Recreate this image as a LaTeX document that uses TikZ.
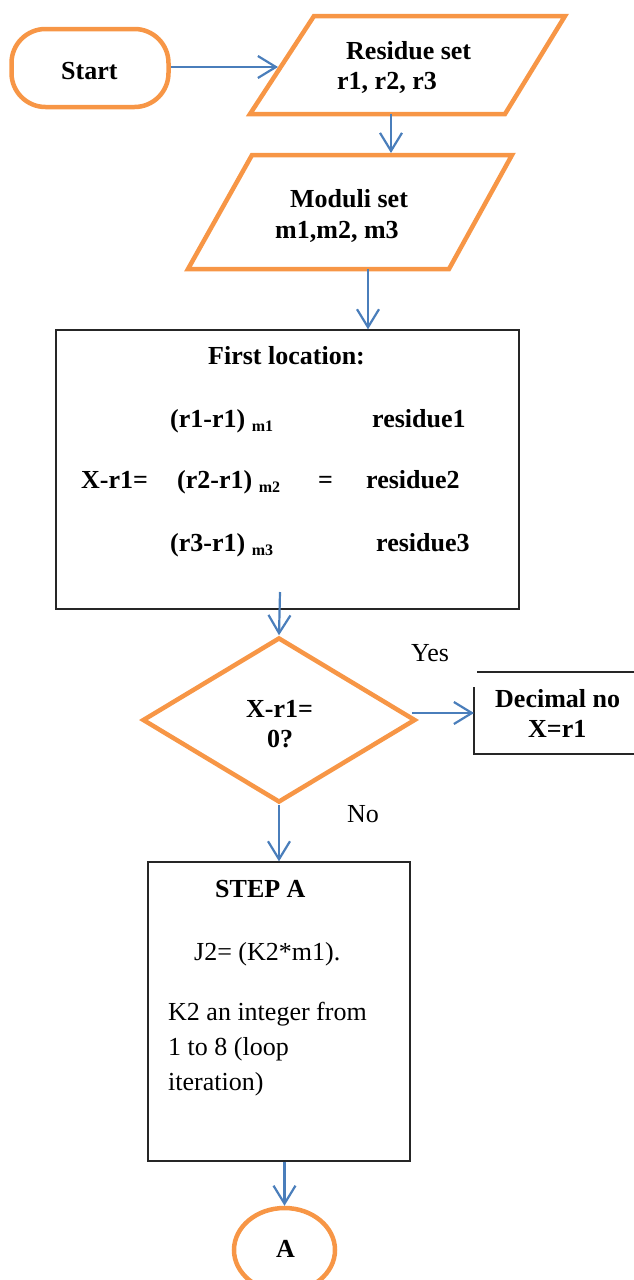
\documentclass[tikz,border=0pt]{standalone}
\usepackage{fontspec}
\setmainfont{Liberation Serif}
\usetikzlibrary{arrows.meta,shapes.geometric}
\definecolor{flowor}{HTML}{F79646}
\definecolor{flowbl}{HTML}{4A7EBB}
\definecolor{boxln}{HTML}{262626}
\begin{document}
\begin{tikzpicture}[x=1pt,y=-1pt,
  every node/.style={inner sep=0pt},
  bt/.style={font=\fontsize{26}{31}\selectfont\bfseries, anchor=base west},
  rt/.style={font=\fontsize{26}{31}\selectfont, anchor=base west},
  iobox/.style={draw=flowor, line width=4.5pt, line join=miter},
  termbox/.style={draw=flowor, line width=4.5pt},
  procbox/.style={draw=boxln, line width=1.3pt, rectangle},
  flow/.style={draw=flowbl, line width=2.2pt, -{Straight Barb[length=18pt,width=22pt]}},
]
\clip (0,0) rectangle (634,1280);

% start terminator
\node[termbox, rectangle, rounded corners=34pt, minimum width=157pt, minimum height=78pt] (start) at (90,68) {};
\node[bt] (starttxt) at (61,79) {Start};

% residue set input
\coordinate (res-tl) at (314,16);
\coordinate (res-tr) at (565,16);
\coordinate (res-br) at (505,114);
\coordinate (res-bl) at (250,114);
\draw[iobox] (res-tl) -- (res-tr) -- (res-br) -- (res-bl) -- cycle;
\node[bt] (restxt1) at (346,59) {Residue set};
\node[bt] (restxt2) at (337,89) {r1, r2, r3};
\coordinate (res-in) at (278,67);
\coordinate (res-out) at (391,114);

% moduli set input
\coordinate (mod-tl) at (252,155);
\coordinate (mod-tr) at (512,155);
\coordinate (mod-br) at (449,269);
\coordinate (mod-bl) at (188,269);
\draw[iobox] (mod-tl) -- (mod-tr) -- (mod-br) -- (mod-bl) -- cycle;
\node[bt] (modtxt1) at (290,207) {Moduli set};
\node[bt] (modtxt2) at (275,238) {m1,m2, m3};
\coordinate (mod-in) at (391,153);
\coordinate (mod-out) at (368,269);

% first location process
\node[procbox, minimum width=463pt, minimum height=279pt] (first) at (287.5,469.5) {};
\node[bt] (firsttitle) at (208,364) {First location:};
\node[bt] (row1a) at (170,427) {(r1-r1) \raisebox{-4pt}{\fontsize{16}{16}\selectfont m1}};
\node[bt] (row1b) at (372,427) {residue1};
\node[bt] (row2x) at (81,488) {X-r1=};
\node[bt] (row2a) at (177,488) {(r2-r1) \raisebox{-4pt}{\fontsize{16}{16}\selectfont m2}};
\node[bt] (row2e) at (318,488) {=};
\node[bt] (row2b) at (366,488) {residue2};
\node[bt] (row3a) at (170,551) {(r3-r1) \raisebox{-4pt}{\fontsize{16}{16}\selectfont m3}};
\node[bt] (row3b) at (376,551) {residue3};
\coordinate (first-out) at (280,592);

% decision
\node[termbox, diamond, minimum width=273pt, minimum height=165pt] (dia) at (279,720) {};
\node[bt] (diatxt1) at (246,717) {X-r1=};
\node[bt] (diatxt2) at (267,747) {0?};
\node[rt] (yes) at (411,661) {Yes};
\node[rt] (no) at (347,822) {No};

% decimal result (open frame)
\coordinate (dec-in) at (474,713);
\draw[boxln, line width=1.3pt] (477,672) -- (640,672);
\draw[boxln, line width=1.3pt] (474,687) -- (474,754) -- (640,754);
\node[bt] (dectxt1) at (495,707) {Decimal no};
\node[bt] (dectxt2) at (528,737) {X=r1};

% step A process
\node[procbox, minimum width=262pt, minimum height=299pt] (step) at (279,1011.5) {};
\node[bt] (steptitle) at (215,897) {STEP A};
\node[rt] (steptxt1) at (194,960) {J2= (K2*m1).};
\node[rt] (steptxt2) at (168,1020) {K2 an integer from};
\node[rt] (steptxt3) at (168,1055) {1 to 8 (loop};
\node[rt] (steptxt4) at (168,1090) {iteration)};

% connector A
\node[termbox, ellipse, minimum width=101pt, minimum height=84pt] (conA) at (284.5,1250) {};
\node[bt] (conAtxt) at (276,1257) {A};

% connectors
\draw[flow] (start.east |- res-in) -- (res-in);
\draw[flow] (res-out) -- (mod-in);
\draw[flow] (mod-out) -- (mod-out |- first.north);
\draw[flow] (first-out) -- (dia.north);
\draw[flow] ([xshift=-6pt,yshift=7pt]dia.east) -- (dec-in);
\draw[flow] (dia.south) -- (dia.south |- step.north);
\draw[flow] (conA.north |- step.south) -- (conA.north);
\end{tikzpicture}
\end{document}
